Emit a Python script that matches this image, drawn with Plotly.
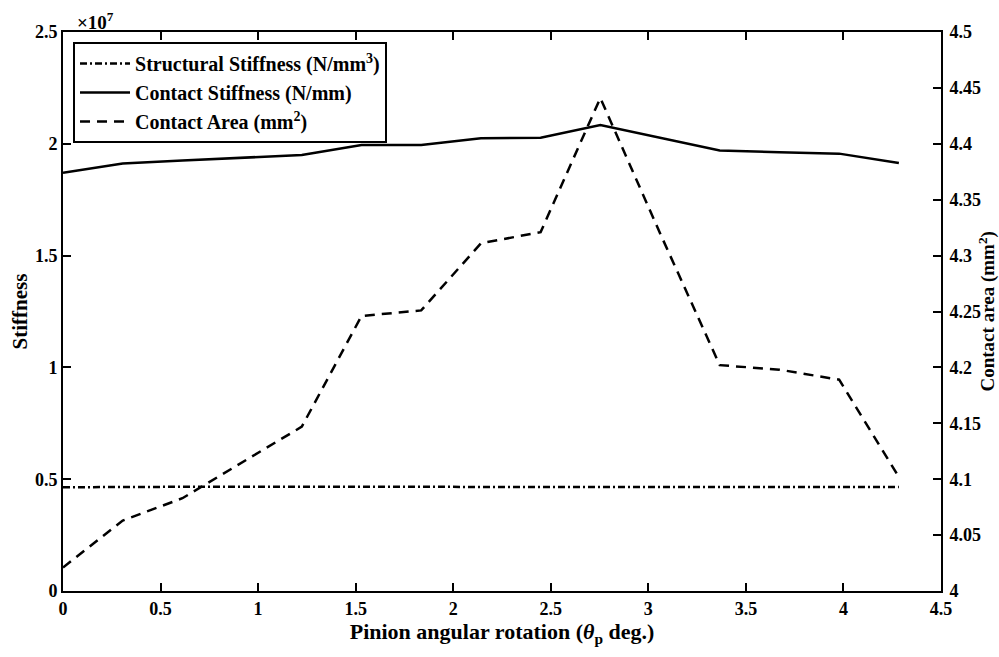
import plotly.graph_objects as go

theta = [0.0, 0.306, 0.612, 0.918, 1.224, 1.53, 1.836, 2.142, 2.448, 2.754, 3.06, 3.366, 3.672, 3.978, 4.284]
structural_stiffness = [0.464, 0.466, 0.466, 0.466, 0.466, 0.466, 0.466, 0.466, 0.466, 0.466, 0.466, 0.466, 0.465, 0.465, 0.465]  # x1e7
contact_stiffness = [1.870, 1.912, 1.925, 1.937, 1.950, 1.995, 1.995, 2.025, 2.027, 2.084, 2.028, 1.970, 1.962, 1.956, 1.914]  # x1e7
contact_area = [4.021, 4.063, 4.083, 4.115, 4.147, 4.246, 4.251, 4.311, 4.321, 4.441, 4.320, 4.202, 4.198, 4.189, 4.102]

left_ticks = [0, 0.5, 1, 1.5, 2, 2.5]
right_ticks = [4, 4.05, 4.1, 4.15, 4.2, 4.25, 4.3, 4.35, 4.4, 4.45, 4.5]
x_ticks = [0, 0.5, 1, 1.5, 2, 2.5, 3, 3.5, 4, 4.5]

FONT = "Liberation Serif"

fig = go.Figure()
fig.add_trace(go.Scatter(x=theta, y=structural_stiffness, mode="lines",
                         name="<b>Structural Stiffness (N/mm<sup>3</sup>)</b>",
                         line=dict(color="black", width=2.5, dash="7px,3px,2px,3px")))
fig.add_trace(go.Scatter(x=theta, y=contact_stiffness, mode="lines",
                         name="<b>Contact Stiffness (N/mm)</b>",
                         line=dict(color="black", width=2.5)))
fig.add_trace(go.Scatter(x=theta, y=contact_area, mode="lines", yaxis="y2",
                         name="<b>Contact Area (mm<sup>2</sup>)</b>",
                         line=dict(color="black", width=2.5, dash="10px,7px")))

axis_common = dict(showgrid=False, zeroline=False, ticks="inside", ticklen=8,
                   tickwidth=2, tickcolor="black", linecolor="black", linewidth=2,
                   showline=True, automargin=False,
                   tickfont=dict(family=FONT, size=18, color="black", weight="bold"))

fig.update_layout(
    width=999, height=657,
    margin=dict(l=63, r=58, t=32, b=66, autoexpand=False),
    paper_bgcolor="white", plot_bgcolor="white",
    font=dict(family=FONT, color="black"),
    xaxis=dict(range=[0, 4.5], tickvals=x_ticks, mirror="ticks",
               title=dict(text="<b>Pinion angular rotation (<i>θ</i><sub>p</sub> deg.)</b>",
                          font=dict(family=FONT, size=22), standoff=6),
               **axis_common),
    yaxis=dict(range=[0, 2.5], tickvals=left_ticks, mirror=True,
               title=dict(text="<b>Stiffness</b>", font=dict(family=FONT, size=21), standoff=2),
               **axis_common),
    yaxis2=dict(range=[4, 4.5], tickvals=right_ticks, overlaying="y", side="right",
                ticklabelstandoff=3,
                **axis_common),
    showlegend=True,
    legend=dict(x=0.0114, y=0.982, xanchor="left", yanchor="top",
                bordercolor="black", borderwidth=2, bgcolor="white",
                font=dict(family=FONT, size=20, color="black"),
                itemwidth=50, tracegroupgap=0),
    annotations=[
        dict(text="<b>×10<sup>7</sup></b>", x=0, y=1, xref="paper", yref="paper",
             xanchor="left", yanchor="bottom", showarrow=False, xshift=12, yshift=-3,
             font=dict(family=FONT, size=19, color="black")),
        dict(text="<b>Contact area (mm<sup>2</sup>)</b>", x=1, y=0.5, xref="paper", yref="paper",
             xanchor="center", yanchor="middle", showarrow=False, xshift=46, textangle=-90,
             borderpad=0, font=dict(family=FONT, size=19, color="black")),
    ],
)

fig.write_html("out.html")
